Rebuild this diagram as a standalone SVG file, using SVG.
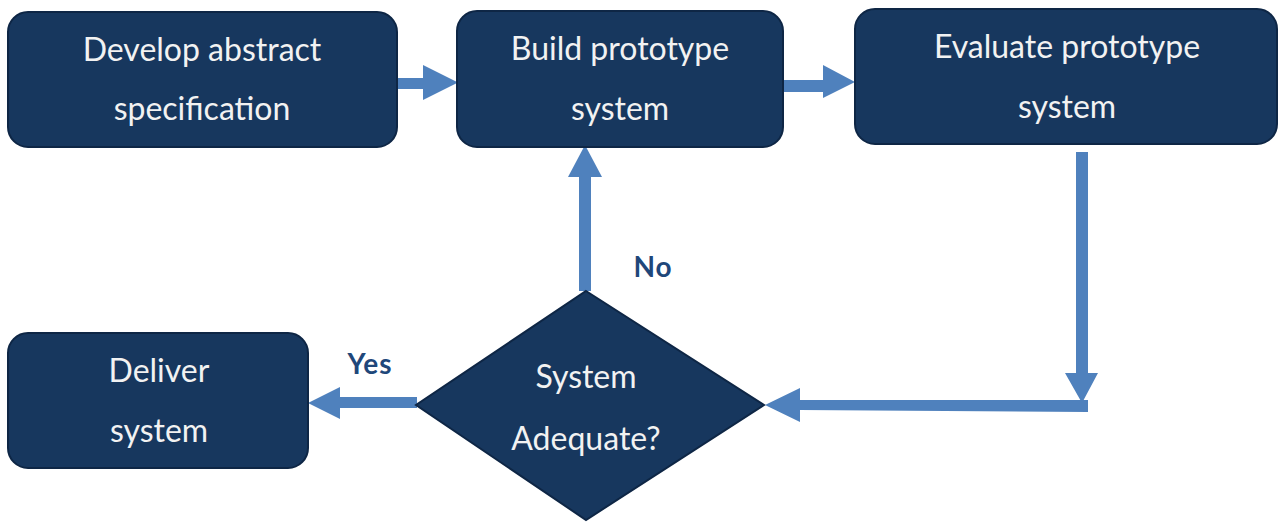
<svg xmlns="http://www.w3.org/2000/svg" width="1279" height="524" viewBox="0 0 1279 524">
<style>
.box{fill:#17375e;stroke:#0e2645;stroke-width:2}
.t{font-family:Lato,"Liberation Sans",sans-serif;font-size:32px;fill:#f2f2f2;text-anchor:middle}
.lbl{font-family:Lato,"Liberation Sans",sans-serif;font-size:28px;font-weight:bold;fill:#1f477a;text-anchor:middle;letter-spacing:1px}
.ar{fill:#4f81bd}
</style>
<rect width="1279" height="524" fill="#ffffff"/>
<g id="connectors">
<polygon class="ar" points="397,78 423,78 423,65 458,82.5 423,100 423,89 397,89"/>
<polygon class="ar" points="783,80 823,80 823,65 855,82 823,98 823,92 783,92"/>
<polygon class="ar" points="579,291 579,177 568,177 585,145 602,177 591,177 591,291"/>
<polygon class="ar" points="1076,152 1088,152 1088,373 1098,373 1082,403 1065,373 1076,373"/>
<polygon class="ar" points="1088,400 1088,412 800,410 800,422 765,405 800,388 800,400"/>
<polygon class="ar" points="417,397 340,397 340,387 308,403 340,419 340,408 417,408"/>
</g>
<g id="develop">
<rect class="box" x="8" y="12" width="389" height="135" rx="20"/>
<text class="t" x="202" y="61">Develop abstract</text>
<text class="t" x="202" y="120">specification</text>
</g>
<g id="build">
<rect class="box" x="457" y="11" width="326" height="136" rx="20"/>
<text class="t" x="620" y="60">Build prototype</text>
<text class="t" x="620" y="120">system</text>
</g>
<g id="evaluate">
<rect class="box" x="855" y="9" width="422" height="135" rx="20"/>
<text class="t" x="1067" y="58">Evaluate prototype</text>
<text class="t" x="1067" y="118">system</text>
</g>
<g id="deliver">
<rect class="box" x="8" y="333" width="300" height="135" rx="20"/>
<text class="t" x="159" y="382">Deliver</text>
<text class="t" x="159" y="442">system</text>
</g>
<g id="decision">
<polygon class="box" points="586,291 764,405 586,520 416,405"/>
<text class="t" x="586" y="388">System</text>
<text class="t" x="586" y="450">Adequate?</text>
</g>
<text class="lbl" x="653" y="277">No</text>
<text class="lbl" x="370" y="374">Yes</text>
</svg>
